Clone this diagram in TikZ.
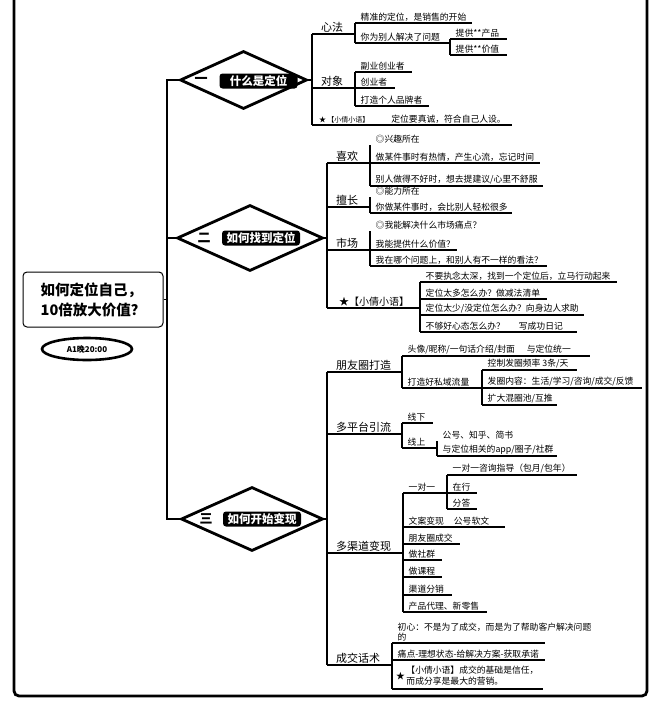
\documentclass[tikz,border=0pt]{standalone}
\usepackage{fontspec}
\setmainfont{Noto Sans CJK SC}
\usetikzlibrary{shapes.geometric}
\newcommand\mmnode[6]{%
  \node[#1,anchor=south west] (#2) at (#3,#4) {#6};
  \coordinate (#2-end) at (#5,#4);
  \draw[ul] (#2.south west) -- (#2-end);}
\tikzset{
  lvone/.style={font=\fontsize{11}{13}\selectfont, inner xsep=9pt, inner ysep=1.5pt},
  lf/.style={font=\fontsize{8.8}{10}\selectfont, inner xsep=5.5pt, inner ysep=1.5pt, align=left},
  ul/.style={line width=1.6pt},
  cn/.style={line width=1.6pt},
  sp/.style={line width=1.9pt},
  frame/.style={line width=2.8pt, rounded corners=5pt},
  rootbox/.style={draw, line width=1pt, rounded corners=4pt, minimum width=140pt, minimum height=55pt,
    align=left, font=\bfseries\fontsize{14.5}{20}\selectfont},
  badge/.style={ellipse, draw, line width=2.6pt, minimum width=90pt, minimum height=22pt, inner sep=0pt,
    font=\bfseries\fontsize{8}{9}\selectfont},
  dia/.style={diamond, draw, line width=2.8pt, inner sep=0pt},
  num/.style={font=\bfseries\fontsize{13}{14}\selectfont, inner sep=0pt},
  lab/.style={fill=black, text=white, rounded corners=3pt, font=\bfseries\fontsize{11.5}{12}\selectfont,
    minimum width=78pt, minimum height=15pt, inner sep=1pt},
}
\begin{document}
\begin{tikzpicture}[x=1pt,y=-1pt]
\useasboundingbox (0,0) rectangle (661,717);
\draw[frame] (14,0) -- (14,696) -- (647,696) -- (647,0);

% root
\node[rootbox] (root) at (93,299.5) {如何定位自己，\\10倍放大价值？};
\node[badge] (badge) at (87,349) {A1晚20:00};

% diamonds
\node[dia, minimum width=127pt, minimum height=58pt] (d1) at (243.5,80) {};
\node[num] (d1n) at (201,80) {一};
\node[lab] (d1l) at (258.5,81) {什么是定位};
\node[dia, minimum width=146pt, minimum height=66pt] (d2) at (250,238) {};
\node[num] (d2n) at (204,238) {二};
\node[lab] (d2l) at (261,238) {如何找到定位};
\node[dia, minimum width=142pt, minimum height=64pt] (d3) at (252,519) {};
\node[num] (d3n) at (206,519) {三};
\node[lab] (d3l) at (262,519) {如何开始变现};

\coordinate (spn) at (167,299.5);
\draw[sp] (root.east) -- (spn);
\draw[sp] (spn) |- (d1.west);
\draw[sp] (spn) |- (d2.west);
\draw[sp] (spn) |- (d3.west);

% branch 1
\coordinate (s1) at (312,80);
\draw[sp] (d1.east) -- (s1);
\mmnode{lvone}{f1}{312}{34}{355}{心法}
\mmnode{lf}{f1a}{355}{23}{472}{精准的定位，是销售的开始}
\mmnode{lf}{f1b}{355}{43}{450}{你为别人解决了问题}
\mmnode{lf}{f1ba}{450}{39}{507}{提供**产品}
\mmnode{lf}{f1bb}{450}{55}{507}{提供**价值}
\mmnode{lvone}{f2}{312}{88}{355}{对象}
\mmnode{lf}{f2a}{355}{72}{412}{副业创业者}
\mmnode{lf}{f2b}{355}{88}{395}{创业者}
\mmnode{lf}{f2c}{355}{106}{429}{打造个人品牌者}
\mmnode{lf, inner xsep=7pt}{f3}{312}{125}{512}{{\fontsize{7}{8}\selectfont ★\,【小倩小语】}\hspace{22pt}定位要真诚，符合自己人设。}
\draw[sp] (s1) |- (f1.south west);
\draw[sp] (s1) |- (f2.south west);
\draw[sp] (s1) |- (f3.south west);
\draw[cn] (f1-end) |- (f1a.south west);
\draw[cn] (f1-end) |- (f1b.south west);
\draw[cn] (f1b-end) |- (f1ba.south west);
\draw[cn] (f1b-end) |- (f1bb.south west);
\draw[cn] (f2-end) |- (f2a.south west);
\draw[cn] (f2-end) |- (f2c.south west);

% branch 2
\coordinate (s2) at (327,238);
\draw[sp] (d2.east) -- (s2);
\mmnode{lvone}{g1}{327}{163}{370}{喜欢}
\mmnode{lf}{g1a}{370}{145}{370}{◎兴趣所在}
\mmnode{lf}{g1b}{370}{163}{540}{做某件事时有热情，产生心流，忘记时间}
\mmnode{lf}{g1c}{370}{186}{543}{别人做得不好时，想去提建议/心里不舒服}
\mmnode{lvone}{g2}{327}{207}{370}{擅长}
\mmnode{lf}{g2a}{370}{197}{370}{◎能力所在}
\mmnode{lf}{g2b}{370}{213}{512}{你做某件事时，会比别人轻松很多}
\mmnode{lvone}{g3}{327}{250}{370}{市场}
\mmnode{lf}{g3a}{370}{231}{370}{◎我能解决什么市场痛点？}
\mmnode{lf}{g3b}{370}{250}{457}{我能提供什么价值？}
\mmnode{lf}{g3c}{370}{266}{547}{我在哪个问题上，和别人有不一样的看法？}
\mmnode{lvone, font=\fontsize{10}{12}\selectfont, inner xsep=12pt}{g4}{327}{308}{420}{★【小倩小语】}
\mmnode{lf}{g4a}{420}{282}{617}{不要执念太深，找到一个定位后，立马行动起来}
\mmnode{lf}{g4b}{420}{299}{547}{定位太多怎么办？做减法清单}
\mmnode{lf}{g4c}{420}{315}{584}{定位太少/没定位怎么办？向身边人求助}
\mmnode{lf}{g4d}{420}{332}{577}{不够好心态怎么办？\hspace{14pt}写成功日记}
\draw[sp] (s2) |- (g1.south west);
\draw[sp] (s2) |- (g4.south west);
\draw[cn] (g1-end) |- (g1a.south west);
\draw[cn] (g1-end) |- (g1c.south west);
\draw[cn] (g2-end) |- (g2a.south west);
\draw[cn] (g2-end) |- (g2b.south west);
\draw[cn] (g3-end) |- (g3a.south west);
\draw[cn] (g3-end) |- (g3c.south west);
\draw[cn] (g4-end) |- (g4a.south west);
\draw[cn] (g4-end) |- (g4d.south west);

% branch 3
\coordinate (s3) at (327,519);
\draw[sp] (d3.east) -- (s3);
\mmnode{lvone}{h1}{327}{372}{402}{朋友圈打造}
\mmnode{lf}{h1a}{402}{356}{590}{头像/昵称/一句话介绍/封面\hspace{12pt}与定位统一}
\mmnode{lf}{h1b}{402}{388}{482}{打造好私域流量}
\mmnode{lf}{h1ba}{482}{370}{577}{控制发圈频率 3条/天}
\mmnode{lf}{h1bb}{482}{388}{642}{发圈内容：生活/学习/咨询/成交/反馈}
\mmnode{lf}{h1bc}{482}{405}{557}{扩大混圈池/互推}
\mmnode{lvone}{h2}{327}{434}{402}{多平台引流}
\mmnode{lf}{h2a}{402}{423}{433}{线下}
\mmnode{lf}{h2b}{402}{448}{437}{线上}
\mmnode{lf}{h2ba}{437}{441}{437}{公号、知乎、简书}
\mmnode{lf}{h2bb}{437}{456}{557}{与定位相关的app/圈子/社群}
\mmnode{lvone}{h3}{327}{553}{403}{多渠道变现}
\mmnode{lf}{h3a}{403}{493}{447}{一对一}
\mmnode{lf}{h3aa}{447}{475}{577}{一对一咨询指导（包月/包年）}
\mmnode{lf}{h3ab}{447}{493}{477}{在行}
\mmnode{lf}{h3ac}{447}{509}{477}{分答}
\mmnode{lf}{h3b}{403}{527}{505}{文案变现\hspace{10pt}公号软文}
\mmnode{lf}{h3c}{403}{544}{460}{朋友圈成交}
\mmnode{lf}{h3d}{403}{560}{442}{做社群}
\mmnode{lf}{h3e}{403}{577}{442}{做课程}
\mmnode{lf}{h3f}{403}{595}{452}{渠道分销}
\mmnode{lf}{h3g}{403}{612}{487}{产品代理、新零售}
\mmnode{lvone}{h4}{327}{665}{392}{成交话术}
\mmnode{lf}{h4a}{392}{643}{545}{初心：不是为了成交，而是为了帮助客户解决问题\\的}
\mmnode{lf}{h4b}{392}{660}{545}{痛点-理想状态-给解决方案-获取承诺}
\mmnode{lf, inner xsep=4pt}{h4c}{392}{689}{543}{★\,\begin{tabular}[c]{@{}l@{}}【小倩小语】成交的基础是信任，\\而成分享是最大的营销。\end{tabular}}
\draw[sp] (s3) |- (h1.south west);
\draw[sp] (s3) |- (h4.south west);
\draw[cn] (h1-end) |- (h1a.south west);
\draw[cn] (h1-end) |- (h1b.south west);
\draw[cn] (h1b-end) |- (h1ba.south west);
\draw[cn] (h1b-end) |- (h1bc.south west);
\draw[cn] (h2-end) |- (h2a.south west);
\draw[cn] (h2-end) |- (h2b.south west);
\draw[cn] (h2b-end) |- (h2ba.south west);
\draw[cn] (h2b-end) |- (h2bb.south west);
\draw[cn] (h3-end) |- (h3a.south west);
\draw[cn] (h3-end) |- (h3g.south west);
\draw[cn] (h3a-end) |- (h3aa.south west);
\draw[cn] (h3a-end) |- (h3ac.south west);
\draw[cn] (h4-end) |- (h4a.south west);
\draw[cn] (h4-end) |- (h4c.south west);
\end{tikzpicture}
\end{document}
